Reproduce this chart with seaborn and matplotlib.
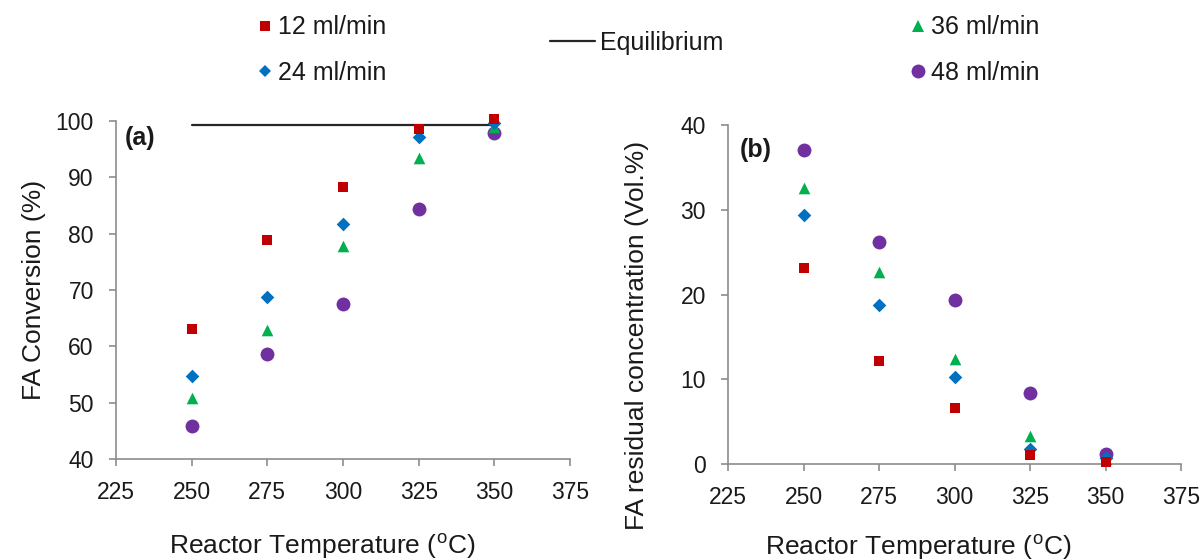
import matplotlib
matplotlib.use("Agg")
import matplotlib.pyplot as plt
from matplotlib.lines import Line2D
import seaborn as sns
import pandas as pd

# ---- data ----
temperature = [250, 275, 300, 325, 350]
flow_labels = ["12 ml/min", "24 ml/min", "36 ml/min", "48 ml/min"]

conv_12 = [63.0, 78.9, 88.3, 98.6, 100.4]
conv_24 = [54.7, 68.8, 81.7, 97.2, 99.6]
conv_36 = [50.9, 62.9, 77.8, 93.5, 98.9]
conv_48 = [45.9, 58.6, 67.6, 84.3, 97.9]

resid_12 = [23.1, 12.2, 6.6, 1.1, 0.2]
resid_24 = [29.4, 18.8, 10.3, 1.8, 0.7]
resid_36 = [32.6, 22.6, 12.4, 3.3, 0.6]
resid_48 = [37.0, 26.2, 19.3, 8.4, 1.2]

equil_temp = [250, 350]
equil_conv = [99.3, 99.3]

x_ticks = [225, 250, 275, 300, 325, 350, 375]

colors = ["#C00000", "#0070C0", "#00B050", "#7030A0"]
markers = ["s", "D", "^", "o"]
sizes = [55, 48, 70, 100]

sns.set_theme(style="white")
plt.rcParams["font.family"] = ["Liberation Sans", "DejaVu Sans"]
plt.rcParams["mathtext.fontset"] = "custom"
plt.rcParams["mathtext.rm"] = "Liberation Sans"

def long_df(series):
    rows = []
    for lab, vals in zip(flow_labels, series):
        for t, v in zip(temperature, vals):
            rows.append({"T": t, "val": v, "flow": lab})
    return pd.DataFrame(rows)

df_a = long_df([conv_12, conv_24, conv_36, conv_48])
df_b = long_df([resid_12, resid_24, resid_36, resid_48])
df_eq = pd.DataFrame({"T": equil_temp, "val": equil_conv})

fig = plt.figure(figsize=(12.03, 5.6), dpi=100)
ax1 = fig.add_axes([116/1203, 1-459/560, (570-116)/1203, (459-121)/560])
ax2 = fig.add_axes([728/1203, 1-464/560, (1181-728)/1203, (464-125)/560])

spine_c = "#8C8C8C"

def draw(ax, df, order):
    for i in order:
        lab, col, mk, sz = flow_labels[i], colors[i], markers[i], sizes[i]
        sub = df[df["flow"] == lab]
        sns.scatterplot(data=sub, x="T", y="val", color=col, marker=mk, s=sz,
                        linewidth=0, ax=ax, legend=False, zorder=3, clip_on=False)

sns.lineplot(data=df_eq, x="T", y="val", color="#262626", linewidth=1.6, ax=ax1, zorder=2)
draw(ax1, df_a, [3, 2, 1, 0])
draw(ax2, df_b, [3, 2, 1, 0])

for ax in (ax1, ax2):
    ax.set_xlim(225, 375)
    ax.set_xticks(x_ticks)
    for s in ("top", "right"):
        ax.spines[s].set_visible(False)
    for s in ("left", "bottom"):
        ax.spines[s].set_color(spine_c)
        ax.spines[s].set_linewidth(1.2)
    ax.tick_params(axis="both", direction="out", length=5, width=1.2, color=spine_c,
                   labelsize=16.5, labelcolor="#1a1a1a", pad=11, bottom=True, left=True)
    ax.set_xlabel("Reactor Temperature ($^{\\mathrm{o}}$C)", fontsize=19, color="#1a1a1a")

ax1.set_ylim(40, 100)
ax1.set_yticks([40, 50, 60, 70, 80, 90, 100])
ax2.set_ylim(0, 40)
ax2.set_yticks([0, 10, 20, 30, 40])

ax1.set_ylabel("FA Conversion (%)", fontsize=19, color="#1a1a1a")
ax2.set_ylabel("FA residual concentration (Vol.%)", fontsize=19, color="#1a1a1a")

ax1.yaxis.set_label_coords(-0.155, 0.5)
ax2.yaxis.set_label_coords(-0.175, 0.38)
ax1.xaxis.set_label_coords(0.454, -0.215)
ax2.xaxis.set_label_coords(0.42, -0.2)

ax1.text(0.02, 0.95, "(a)", transform=ax1.transAxes, fontsize=18, fontweight="bold",
         va="center", ha="left", color="#1a1a1a")
ax2.text(0.026, 0.926, "(b)", transform=ax2.transAxes, fontsize=18, fontweight="bold",
         va="center", ha="left", color="#1a1a1a")

def mk_handle(i):
    return Line2D([], [], linestyle="none", marker=markers[i], color=colors[i],
                  markersize=[7, 6, 9, 10][i], markeredgewidth=0)

leg_kw = dict(frameon=False, fontsize=18, borderpad=0, borderaxespad=0,
              handlelength=0.6, handletextpad=0.25, labelspacing=0.85, loc="center left")
l1 = fig.legend([mk_handle(0), mk_handle(1)], flow_labels[:2],
                bbox_to_anchor=(257/1203, 1-50/560), **leg_kw)
l3 = fig.legend([mk_handle(2), mk_handle(3)], flow_labels[2:],
                bbox_to_anchor=(910/1203, 1-50/560), **leg_kw)
eq_kw = dict(leg_kw)
eq_kw.update(handlelength=1.8, handletextpad=0.2)
l2 = fig.legend([Line2D([], [], color="#262626", linewidth=1.6)], ["Equilibrium"],
                bbox_to_anchor=(550/1203, 1-43/560), **eq_kw)
for lg in (l1, l2, l3):
    for t in lg.get_texts():
        t.set_color("#1a1a1a")

fig.savefig("out.png", dpi=100)
